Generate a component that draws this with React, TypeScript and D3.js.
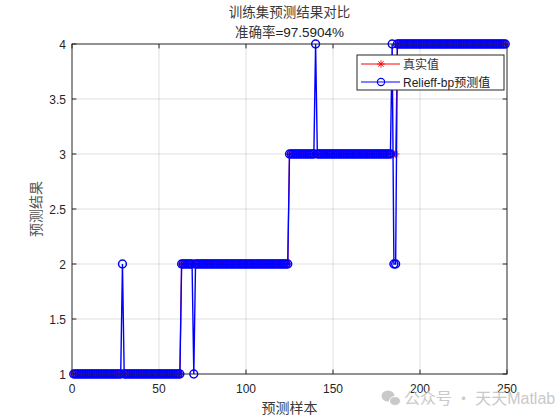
import React from "react";
import * as d3 from "d3";

// True class labels, run-length encoded: class value and count of samples
const classValues = [1, 2, 3, 4];
const classCounts = [62, 62, 62, 63];
// Misclassified samples (1-based index) and the predicted class there
const errorSamples = [29, 70, 140, 184, 185, 186];
const errorPredictions = [2, 1, 4, 4, 2, 2];

const xTicks = [0, 50, 100, 150, 200, 250];
const yTicks = [1, 1.5, 2, 2.5, 3, 3.5, 4];

const title1 = "训练集预测结果对比";
const xLabel = "预测样本";
const yLabel = "预测结果";
const legendNames = ["真实值", "Relieff-bp预测值"];

const trueValues: number[] = [];
classValues.forEach((v, i) => {
  for (let k = 0; k < classCounts[i]; k++) trueValues.push(v);
});
const predValues: number[] = trueValues.slice();
errorSamples.forEach((s, i) => {
  predValues[s - 1] = errorPredictions[i];
});

const W = 560;
const H = 420;
const left = 72;
const right = 507;
const top = 44;
const bottom = 374;

const axisColor = "#262626";
const latin = "Arial, 'Liberation Sans', Helvetica, sans-serif";
const cjk = "'Noto Sans CJK SC', 'Noto Sans', sans-serif";

function Asterisk({ x, y, s, color }: { x: number; y: number; s: number; color: string }) {
  const d = s * 0.7071;
  return (
    <g stroke={color} strokeWidth={0.9}>
      <line x1={x - s} y1={y} x2={x + s} y2={y} />
      <line x1={x} y1={y - s} x2={x} y2={y + s} />
      <line x1={x - d} y1={y - d} x2={x + d} y2={y + d} />
      <line x1={x - d} y1={y + d} x2={x + d} y2={y - d} />
    </g>
  );
}

export default function App() {
  const x = d3.scaleLinear().domain([0, 250]).range([left, right]);
  const y = d3.scaleLinear().domain([1, 4]).range([bottom, top]);
  const line = d3
    .line<number>()
    .x((_, i) => x(i + 1))
    .y((d) => y(d));

  const tickLen = 4.4;

  return (
    <svg
      width={W}
      height={H}
      style={{ position: "absolute", left: 0, top: 0, background: "#fff" }}
    >
      <rect x={0} y={0} width={W} height={H} fill="#fff" />
      {/* grid */}
      <g stroke={axisColor} strokeOpacity={0.15} strokeWidth={1}>
        {xTicks.slice(1, -1).map((t) => (
          <line key={"gx" + t} x1={x(t)} x2={x(t)} y1={top} y2={bottom} />
        ))}
        {yTicks.slice(1, -1).map((t) => (
          <line key={"gy" + t} x1={left} x2={right} y1={y(t)} y2={y(t)} />
        ))}
      </g>
      {/* ticks */}
      <g stroke={axisColor} strokeWidth={1}>
        {xTicks.map((t) => (
          <g key={"tx" + t}>
            <line x1={x(t)} x2={x(t)} y1={bottom} y2={bottom - tickLen} />
            <line x1={x(t)} x2={x(t)} y1={top} y2={top + tickLen} />
          </g>
        ))}
        {yTicks.map((t) => (
          <g key={"ty" + t}>
            <line x1={left} x2={left + tickLen} y1={y(t)} y2={y(t)} />
            <line x1={right} x2={right - tickLen} y1={y(t)} y2={y(t)} />
          </g>
        ))}
      </g>
      {/* true series */}
      <path d={line(trueValues) || ""} fill="none" stroke="#ff0000" strokeWidth={1.2} />
      {trueValues.map((v, i) => (
        <Asterisk key={"a" + i} x={x(i + 1)} y={y(v)} s={3.8} color="#ff0000" />
      ))}
      {/* predicted series */}
      <path d={line(predValues) || ""} fill="none" stroke="#0000ff" strokeWidth={1.4} />
      {predValues.map((v, i) => (
        <circle
          key={"c" + i}
          cx={x(i + 1)}
          cy={y(v)}
          r={3.9}
          fill="none"
          stroke="#0000ff"
          strokeWidth={1.5}
        />
      ))}
      {/* axes box */}
      <rect
        x={left}
        y={top}
        width={right - left}
        height={bottom - top}
        fill="none"
        stroke={axisColor}
        strokeWidth={1}
      />
      {/* tick labels */}
      <g fontFamily={latin} fontSize={12} fill={axisColor}>
        {xTicks.map((t) => (
          <text key={"lx" + t} x={x(t)} y={bottom + 19} textAnchor="middle">
            {t}
          </text>
        ))}
        {yTicks.map((t) => (
          <text key={"ly" + t} x={left - 6} y={y(t) + 4.5} textAnchor="end">
            {t}
          </text>
        ))}
      </g>
      {/* titles */}
      <text x={(left + right) / 2} y={16.5} textAnchor="middle" fontFamily={cjk} fontSize={13.5} fill="#3a3a3a">
        {title1}
      </text>
      <text x={(left + right) / 2} y={37} textAnchor="middle" fontSize={13.5} fill="#222">
        <tspan fontFamily={cjk} fill="#3a3a3a">准确率</tspan>
        <tspan fontFamily={latin}>=97.5904%</tspan>
      </text>
      <text x={(left + right) / 2} y={413} textAnchor="middle" fontFamily={cjk} fontSize={14} fill="#3a3a3a">
        {xLabel}
      </text>
      <text
        transform={`translate(41, ${(top + bottom) / 2}) rotate(-90)`}
        textAnchor="middle"
        fontFamily={cjk}
        fontSize={14}
        fill="#555"
      >
        {yLabel}
      </text>
      {/* legend */}
      <g>
        <rect x={357} y={55} width={147} height={35} fill="#fff" stroke={axisColor} strokeWidth={1} />
        <line x1={361} x2={400} y1={64} y2={64} stroke="#ff0000" strokeWidth={1} />
        <Asterisk x={381} y={64} s={3.8} color="#ff0000" />
        <text x={403} y={68.5} fontFamily={cjk} fontSize={12} fill="#333">
          {legendNames[0]}
        </text>
        <line x1={361} x2={400} y1={82} y2={82} stroke="#0000ff" strokeWidth={1} />
        <circle cx={381} cy={82} r={3.6} fill="none" stroke="#0000ff" strokeWidth={1.2} />
        <text x={403} y={86.5} fontSize={12} fill="#222">
          <tspan fontFamily={latin}>Relieff-bp</tspan>
          <tspan fontFamily={cjk}>预测值</tspan>
        </text>
      </g>
      {/* watermark */}
      <g fill="#c4c4c4" opacity={0.9}>
        <ellipse cx={388} cy={396} rx={6.5} ry={5.5} />
        <ellipse cx={395} cy={401} rx={5.5} ry={4.5} stroke="#fff" strokeWidth={1} />
        <text x={404} y={404} fontFamily={cjk} fontSize={16}>
          公众号 · 天天
          <tspan fontFamily={latin}>Matlab</tspan>
        </text>
      </g>
    </svg>
  );
}
